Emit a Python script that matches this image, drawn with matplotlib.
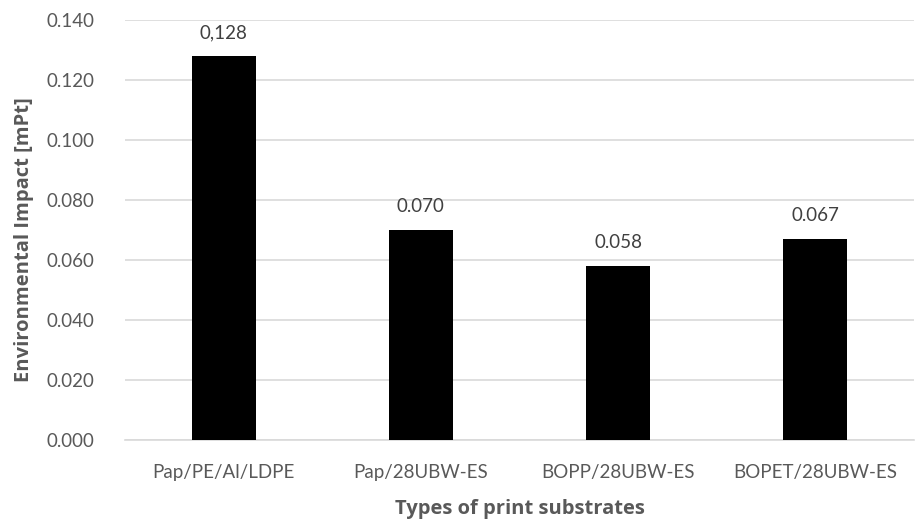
import matplotlib
matplotlib.use("Agg")
import matplotlib.pyplot as plt

categories = ["Pap/PE/Al/LDPE", "Pap/28UBW-ES", "BOPP/28UBW-ES", "BOPET/28UBW-ES"]
values = [0.128, 0.070, 0.058, 0.067]
value_labels = ["0,128", "0.070", "0.058", "0.067"]
yticks = [0.000, 0.020, 0.040, 0.060, 0.080, 0.100, 0.120, 0.140]

plt.rcParams['font.family'] = ['Lato', 'DejaVu Sans']

fig = plt.figure(figsize=(9.2, 5.24), dpi=100)
ax = fig.add_axes([125/920, 84/524, 789/920, 420/524])

x = list(range(len(categories)))
bars = ax.bar(x, values, width=0.325, color='black', zorder=3)

ax.set_xlim(-0.5, len(categories) - 0.5)
ax.set_ylim(0, 0.140)
ax.set_yticks(yticks)
ax.set_yticklabels([f"{v:.3f}" for v in yticks])
ax.set_xticks(x)
ax.set_xticklabels(categories)

ax.grid(axis='y', color='#d9d9d9', linewidth=1.2, zorder=0)
for s in ['top', 'right', 'left']:
    ax.spines[s].set_visible(False)
ax.spines['bottom'].set_color('#d9d9d9')
ax.spines['bottom'].set_linewidth(1.2)
ax.tick_params(axis='both', length=0, labelsize=13.5, labelcolor='#595959')
ax.tick_params(axis='x', pad=17)
ax.tick_params(axis='y', pad=22)

for xi, v, lab in zip(x, values, value_labels):
    ax.annotate(lab, (xi, v), xytext=(0, 10.5), textcoords='offset points',
                ha='center', va='bottom', fontsize=13.5, color='#404040')

title_font = dict(family=['Open Sans', 'DejaVu Sans'], fontsize=14.5,
                  fontweight='bold', color='#595959')
ax.set_ylabel("Environmental Impact [mPt]", labelpad=10, **title_font)
ax.yaxis.set_label_coords(-0.115, 0.477)
ax.set_xlabel("Types of print substrates", labelpad=13, **title_font)

fig.savefig("out.png", dpi=100)
